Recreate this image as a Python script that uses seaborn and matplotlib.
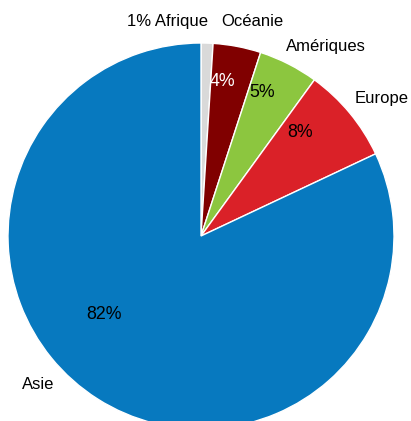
import matplotlib
matplotlib.use("Agg")
import matplotlib.pyplot as plt
import seaborn as sns

# Share of the total by region, clockwise from the top
regions = ["Afrique", "Océanie", "Amériques", "Europe", "Asie"]
shares = [1, 4, 5, 8, 82]
colors = ["#D9D9D9", "#800000", "#8CC63F", "#DA2128", "#0779BF"]

sns.set_theme(style="white")
plt.rcParams["font.family"] = ["Liberation Sans", "DejaVu Sans"]

fig = plt.figure(figsize=(4.11, 4.21), dpi=100)
ax = fig.add_axes([8 / 411, -8 / 421, 386 / 411, 386 / 421])

wedges, _ = ax.pie(
    shares,
    colors=colors,
    startangle=90,
    counterclock=False,
    radius=1,
    wedgeprops=dict(edgecolor="white", linewidth=1.0),
)
ax.set_xlim(-1, 1)
ax.set_ylim(-1, 1)
ax.set_aspect("equal")
ax.axis("off")

# Region names outside the pie
name_pos = {
    "Afrique": (-0.176, 1.109),
    "Océanie": (0.264, 1.109),
    "Amériques": (0.648, 0.984),
    "Europe": (0.938, 0.715),
    "Asie": (-0.845, -0.772),
}
for reg, val in zip(regions, shares):
    txt = f"{val}% {reg}" if reg == "Afrique" else reg
    x, y = name_pos[reg]
    ax.text(x, y, txt, ha="center", va="center", fontsize=12, color="black",
            clip_on=False)

# Percentages inside the wedges
pct_pos = {
    "Océanie": ((0.109, 0.798), "white"),
    "Amériques": ((0.316, 0.741), "black"),
    "Europe": ((0.513, 0.534), "black"),
    "Asie": ((-0.503, -0.409), "black"),
}
for reg, val in zip(regions, shares):
    if reg in pct_pos:
        (x, y), c = pct_pos[reg]
        ax.text(x, y, f"{val}%", ha="center", va="center", fontsize=12.8, color=c)

fig.savefig("out.png", dpi=100)
